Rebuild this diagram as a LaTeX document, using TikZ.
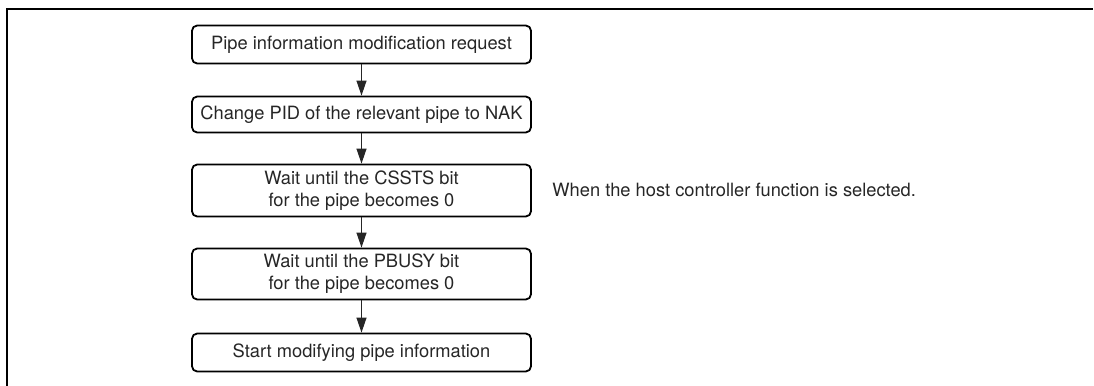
\documentclass[tikz,border=0pt]{standalone}
\usepackage{fontspec}
\setmainfont{TeX Gyre Heros}
\usetikzlibrary{arrows.meta}
\begin{document}
\begin{tikzpicture}[x=0.5pt,y=-0.5pt,
  box/.style={draw=black,line width=0.9pt,rounded corners=2.6pt,minimum width=169.5pt,inner sep=1pt,align=center,font=\fontsize{9.15}{11}\selectfont,text=black!85},
  arr/.style={draw=black!85,line width=0.55pt,-{Triangle[length=7.5pt,width=5pt]}},
  lab/.style={font=\fontsize{9.15}{11}\selectfont,text=black!85,inner sep=0pt,anchor=west}]
  \useasboundingbox (0,0) rectangle (1094,386);
  % frame of the figure: only its top and left edges show
  \draw[line width=1pt] (7,386) -- (7,9) -- (1093,9);
  % the five steps, top to bottom
  \node[box,minimum height=19pt] (req) at (361.5,44.5) {Pipe information modification request};
  \node[box,minimum height=18pt] (nak) at (361.5,114.5) {Change PID of the relevant pipe to NAK};
  \node[box,minimum height=26pt] (cssts) at (361.5,190.5) {Wait until the CSSTS bit\\for the pipe becomes 0};
  \node[box,minimum height=25.5pt] (pbusy) at (361.5,274) {Wait until the PBUSY bit\\for the pipe becomes 0};
  \node[box,minimum height=19pt] (start) at (361.5,352.5) {Start modifying pipe information};
  \foreach \a/\b in {req/nak,nak/cssts,cssts/pbusy,pbusy/start} \draw[arr] (\a) -- (\b);
  % note beside the CSSTS step
  \node[lab] (host) at (552,190) {When the host controller function is selected.};
\end{tikzpicture}
\end{document}
